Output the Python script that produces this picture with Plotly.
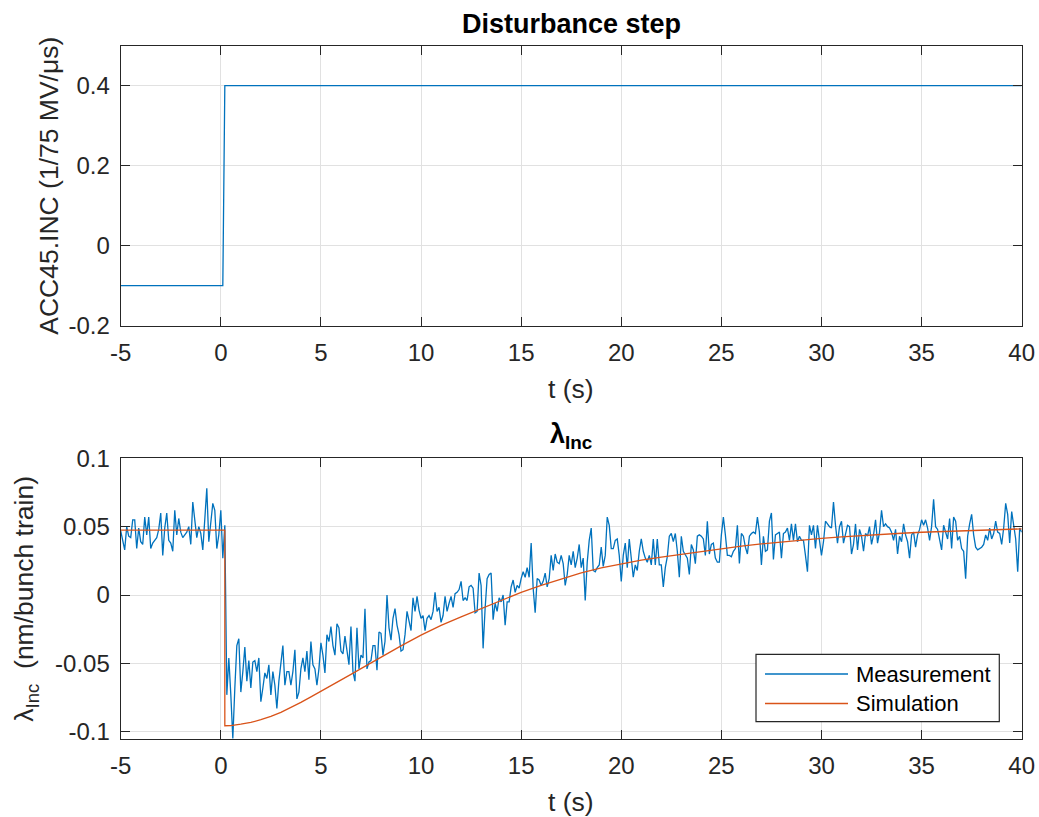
import numpy as np
import plotly.graph_objects as go

# ---------------------------------------------------------------- data
# Disturbance step applied to ACC45.INC (1/75 MV/us)
step_t = [-5.0, 0.1, 0.2, 40.0]
step_v = [-0.1, -0.1, 0.4, 0.4]

# Measured lambda_Inc (nm/bunch train), one sample every 0.1 s from t = -5 s
meas_t0 = -5.0
meas_dt = 0.1
meas_before = [
    0.047, 0.039, 0.033, 0.050, 0.043, 0.042, 0.055, 0.055, 0.034, 0.049,
    0.039, 0.037, 0.057, 0.044, 0.057, 0.034, 0.038, 0.040, 0.042, 0.048,
    0.060, 0.029, 0.049, 0.060, 0.040, 0.038, 0.032, 0.062, 0.044, 0.056,
    0.046, 0.042, 0.044, 0.046, 0.050, 0.037, 0.068, 0.057, 0.042, 0.050,
    0.045, 0.033, 0.054, 0.078, 0.039, 0.055, 0.067, 0.062, 0.034, 0.044,
    0.062, 0.027, 0.051,
]
meas_drop = [
    -0.073, -0.046, -0.073, -0.105, -0.068, -0.037, -0.032, -0.071, -0.056, -0.038,
    -0.063, -0.048, -0.068, -0.049, -0.048, -0.056, -0.046, -0.078, -0.068, -0.057,
    -0.061, -0.051, -0.073, -0.056, -0.066, -0.083, -0.063, -0.049, -0.037, -0.066,
    -0.056, -0.056, -0.066, -0.056, -0.040, -0.076, -0.071, -0.054, -0.046, -0.056,
]
meas_recover = [
    -0.041, -0.062, -0.034, -0.051, -0.054, -0.066, -0.054, -0.035, -0.044, -0.057,
    -0.029, -0.034, -0.023, -0.037, -0.044, -0.021, -0.024, -0.041, -0.043, -0.030,
    -0.041, -0.051, -0.023, -0.056, -0.063, -0.024, -0.054, -0.044, -0.046, -0.010,
    -0.054, -0.049, -0.048, -0.037, -0.037, -0.055, -0.027, -0.028, -0.044, -0.034,
    0.000, -0.024, -0.033, -0.017, -0.010, -0.022, -0.029, -0.041, -0.040, -0.029,
    -0.012, -0.020, -0.026, -0.002, -0.012, -0.001, -0.011, -0.017, -0.015,
    -0.026, -0.017, -0.015, -0.018, -0.012, 0.002, -0.012, -0.009, -0.020, -0.015,
    -0.001, -0.012, -0.006, -0.001, -0.009, 0.001, 0.002, 0.004, 0.010, -0.004,
    -0.002, -0.004, 0.006, 0.007, 0.005, -0.013, -0.012, 0.016, 0.007, -0.039, -0.010,
]
meas_mid = [
    0.012, 0.015, 0.016, -0.018, -0.006, -0.012, -0.002, -0.005, 0.000, -0.022,
    -0.005, -0.005, 0.006, 0.011, 0.002, 0.007, 0.005, 0.012, 0.017,
    0.013, 0.020, 0.013, 0.038, 0.005, -0.013, 0.012, 0.011, 0.007, 0.010,
    0.016, 0.006, 0.012, 0.029, 0.018, 0.030, 0.024, 0.023, 0.029, 0.023,
    0.007, 0.015, 0.029, 0.022, 0.032, 0.020, 0.027, 0.037, 0.020, 0.027,
    -0.004, 0.024, 0.040, 0.049, 0.018, 0.017, 0.020, 0.022, 0.035, 0.021,
    0.029, 0.057, 0.051, 0.034, 0.034, 0.040, 0.041, 0.029, 0.010, 0.029,
    0.038, 0.020, 0.041, 0.026, 0.013, 0.022, 0.018, 0.032, 0.041, 0.032,
    0.027, 0.024, 0.029, 0.022, 0.041, 0.022, 0.041, 0.022, 0.022, 0.006, 0.020,
]
meas_late = [
    0.028, 0.043, 0.045, 0.039, 0.045, 0.032, 0.013, 0.043, 0.032, 0.029,
    0.027, 0.015, 0.037, 0.033, 0.023, 0.043, 0.044, 0.043, 0.041, 0.029,
    0.054, 0.030, 0.037, 0.038, 0.027, 0.024, 0.024, 0.044, 0.057, 0.044,
    0.029, 0.029, 0.028, 0.032, 0.034, 0.051, 0.023, 0.045, 0.043, 0.035,
    0.030, 0.043, 0.045, 0.046, 0.045, 0.057, 0.046, 0.022, 0.043, 0.032,
    0.033, 0.054, 0.060, 0.026, 0.044, 0.045, 0.046, 0.027, 0.045, 0.046,
    0.049, 0.040, 0.052, 0.040, 0.052, 0.039, 0.043, 0.040, 0.040, 0.029,
    0.017, 0.051, 0.044, 0.051, 0.034, 0.051, 0.039, 0.029, 0.039, 0.054,
    0.052, 0.050, 0.049, 0.068, 0.051, 0.038, 0.050, 0.054, 0.038, 0.044,
]
meas_end = [
    0.051, 0.050, 0.030, 0.037, 0.052, 0.033, 0.048, 0.043, 0.032, 0.045,
    0.043, 0.050, 0.037, 0.044, 0.055, 0.038, 0.046, 0.062, 0.050, 0.052,
    0.050, 0.049, 0.046, 0.040, 0.048, 0.030, 0.043, 0.039, 0.052, 0.044,
    0.039, 0.027, 0.044, 0.046, 0.035, 0.044, 0.048, 0.055, 0.051, 0.055,
    0.049, 0.040, 0.050, 0.070, 0.050, 0.048, 0.041, 0.033, 0.051, 0.046,
    0.041, 0.056, 0.034, 0.057, 0.054, 0.040, 0.043, 0.034, 0.032,
    0.012, 0.043, 0.052, 0.059, 0.044, 0.035, 0.033, 0.034, 0.035, 0.037,
    0.044, 0.040, 0.049, 0.041, 0.045, 0.054, 0.046, 0.045, 0.037, 0.049,
    0.067, 0.059, 0.038, 0.061, 0.052, 0.041, 0.017, 0.049, 0.046,
]

# Simulated lambda_Inc response
sim_t = [-5.0, 0.2, 0.2, 0.5, 1.0, 1.5, 2.0, 2.5, 3.0, 3.5, 4.0, 4.5, 5.0, 5.5,
         6.0, 6.5, 7.0, 7.5, 8.0, 9.0, 10.0, 11.0, 12.0, 13.0, 14.0, 15.0, 16.0,
         17.0, 18.0, 19.0, 20.0, 21.0, 22.0, 23.0, 24.0, 25.0, 26.0, 27.0, 28.0,
         29.0, 30.0, 31.0, 32.0, 33.0, 34.0, 35.0, 36.0, 37.0, 38.0, 39.0, 40.0]
sim_v = [0.0475, 0.0475, -0.0956, -0.0955, -0.0945, -0.0932, -0.0912, -0.0888,
         -0.0858, -0.0823, -0.0785, -0.0745, -0.0705, -0.0664, -0.0622, -0.0580,
         -0.0538, -0.0496, -0.0455, -0.0372, -0.0293, -0.0222, -0.0160, -0.0100,
         -0.0040, 0.0020, 0.0070, 0.0118, 0.0162, 0.0198, 0.0228, 0.0255, 0.0278,
         0.0298, 0.0318, 0.0340, 0.0358, 0.0374, 0.0389, 0.0402, 0.0414, 0.0425,
         0.0435, 0.0444, 0.0452, 0.0459, 0.0465, 0.0471, 0.0476, 0.0480, 0.0484]

# Tick positions and labels
x_tickvals = [-5, 0, 5, 10, 15, 20, 25, 30, 35, 40]
x_ticktext = ["-5", "0", "5", "10", "15", "20", "25", "30", "35", "40"]
top_tickvals = [-0.2, 0.0, 0.2, 0.4]
top_ticktext = ["-0.2", "0", "0.2", "0.4"]
bot_tickvals = [-0.1, -0.05, 0.0, 0.05, 0.1]
bot_ticktext = ["-0.1", "-0.05", "0", "0.05", "0.1"]

measurement = meas_before + meas_drop + meas_recover + meas_mid + meas_late + meas_end
meas_t = meas_t0 + meas_dt * np.arange(len(measurement))

# ---------------------------------------------------------------- layout
W, H = 1039, 817
AX_L, AX_R = 120.7, 1021.7
TOP_T, TOP_B = 45.7, 325.7
BOT_T, BOT_B = 458.3, 739.0

BLUE = "#0072BD"
ORANGE = "#D95319"
AXC = "#262626"
FONT = "Liberation Sans"


def px(x):
    return x / W


def py(y):
    return 1 - y / H


fig = go.Figure()
fig.add_trace(go.Scatter(x=step_t, y=step_v, mode="lines",
                         line=dict(color=BLUE, width=1.3),
                         xaxis="x", yaxis="y", showlegend=False))
fig.add_trace(go.Scatter(x=meas_t, y=measurement, mode="lines",
                         line=dict(color=BLUE, width=1.3),
                         xaxis="x2", yaxis="y2", showlegend=False))
fig.add_trace(go.Scatter(x=sim_t, y=sim_v, mode="lines",
                         line=dict(color=ORANGE, width=1.3),
                         xaxis="x2", yaxis="y2", showlegend=False))

axis_style = dict(
    showline=True, linecolor=AXC, linewidth=1.2, mirror="ticks",
    ticks="inside", ticklen=9, tickwidth=1.2, tickcolor=AXC,
    showgrid=True, gridcolor="#e1e1e1", gridwidth=1, zeroline=False,
    tickfont=dict(family=FONT, size=24, color=AXC),
    ticklabelstandoff=5, automargin=False,
)

fig.update_layout(
    width=W, height=H,
    margin=dict(l=0, r=0, t=0, b=0, autoexpand=False),
    paper_bgcolor="white", plot_bgcolor="white",
    xaxis=dict(domain=[px(AX_L), px(AX_R)], anchor="y", range=[-5, 40],
               tickmode="array", tickvals=x_tickvals, ticktext=x_ticktext,
               **axis_style),
    yaxis=dict(domain=[py(TOP_B), py(TOP_T)], anchor="x", range=[-0.2, 0.5],
               tickmode="array", tickvals=top_tickvals, ticktext=top_ticktext,
               **axis_style),
    xaxis2=dict(domain=[px(AX_L), px(AX_R)], anchor="y2", range=[-5, 40],
                tickmode="array", tickvals=x_tickvals, ticktext=x_ticktext,
                **axis_style),
    yaxis2=dict(domain=[py(BOT_B), py(BOT_T)], anchor="x2", range=[-0.1053, 0.1],
                tickmode="array", tickvals=bot_tickvals, ticktext=bot_ticktext,
                **axis_style),
)

xc = (AX_L + AX_R) / 2
label_font = dict(family=FONT, size=26.5, color=AXC)
title_font = dict(family=FONT, size=27, color="black")
legend_font = dict(family=FONT, size=22, color="black")

annotations = [
    dict(text="<b>Disturbance step</b>", x=px(xc), y=py(24), font=title_font),
    dict(text="<b>λ<sub>Inc</sub></b>", x=px(xc), y=py(436), font=title_font),
    dict(text="t (s)", x=px(xc), y=py(389.5), font=label_font),
    dict(text="t (s)", x=px(xc), y=py(802), font=label_font),
    dict(text="ACC45.INC (1/75 MV/μs)", x=px(49), y=py((TOP_T + TOP_B) / 2),
         textangle=-90, font=label_font),
    dict(text="λ<sub>Inc</sub>  (nm/bunch train)", x=px(26), y=py((BOT_T + BOT_B) / 2),
         textangle=-90, font=label_font),
    dict(text="Measurement", x=px(854), y=py(674), xanchor="left", font=legend_font),
    dict(text="Simulation", x=px(854), y=py(703.5), xanchor="left", font=legend_font),
]
for a in annotations:
    a.setdefault("xanchor", "center")
    a.update(xref="paper", yref="paper", yanchor="middle", showarrow=False)
fig.update_layout(annotations=annotations)

# Legend box with line samples
shapes = [
    dict(type="rect", x0=px(756), x1=px(999.3), y0=py(721.7), y1=py(654.3),
         line=dict(color=AXC, width=1.2), fillcolor="white"),
    dict(type="line", x0=px(765), x1=px(848), y0=py(674), y1=py(674),
         line=dict(color=BLUE, width=1.3)),
    dict(type="line", x0=px(765), x1=px(848), y0=py(703.5), y1=py(703.5),
         line=dict(color=ORANGE, width=1.3)),
]
for s in shapes:
    s.update(xref="paper", yref="paper", layer="above")
fig.update_layout(shapes=shapes)

fig.write_html("out.html")
